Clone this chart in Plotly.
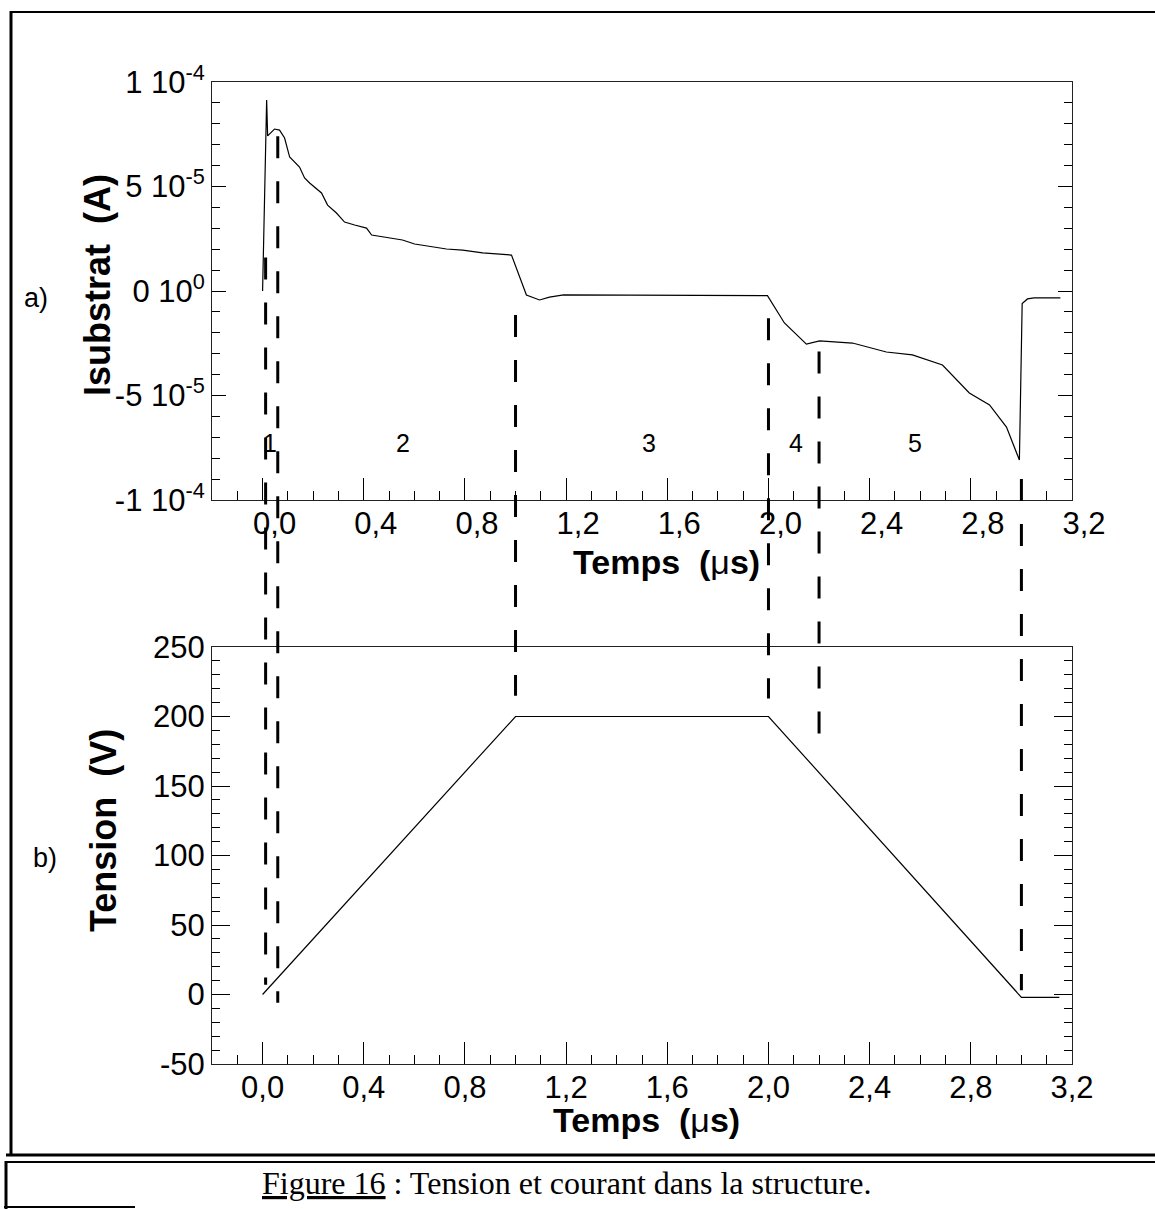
import plotly.graph_objects as go

# ---------------- data ----------------
# a) substrate current, time in µs, current in units of 1e-5 A
t_current = [0.0, 0.016, 0.020, 0.047, 0.067, 0.087, 0.107, 0.146, 0.166, 0.186,
             0.233, 0.257, 0.292, 0.324, 0.364, 0.411, 0.431, 0.490, 0.553, 0.601,
             0.660, 0.727, 0.791, 0.870, 0.984, 1.043, 1.095, 1.134, 1.19, 1.50,
             1.80, 1.996, 2.063, 2.150, 2.202, 2.332, 2.466, 2.569, 2.688, 2.794,
             2.874, 2.941, 2.992, 2.998, 3.003, 3.024, 3.05, 3.154]
i_current_e5 = [0.0, 9.14, 7.42, 7.75, 7.70, 7.32, 6.41, 5.93, 5.41, 5.17,
                4.69, 4.11, 3.73, 3.30, 3.16, 3.01, 2.68, 2.58, 2.44, 2.25,
                2.15, 2.01, 1.96, 1.82, 1.72, -0.19, -0.43, -0.29, -0.19, -0.20,
                -0.20, -0.22, -1.53, -2.54, -2.39, -2.49, -2.92, -3.06, -3.54, -4.88,
                -5.45, -6.51, -8.09, -4.50, -0.60, -0.38, -0.33, -0.33]

# b) applied voltage
t_voltage = [0.0, 1.0, 2.0, 3.0, 3.15]
v_voltage = [0.0, 200.0, 200.0, -2.0, -2.0]

# phase boundaries (µs) and vertical extent of dashed markers
boundary_t = [0.012, 0.06, 1.0, 2.0, 2.2, 3.0]
boundary_top_A = [1.6e-5, 7.4e-5, -1.15e-5, -1.3e-5, -2.9e-5, -9.0e-5]
boundary_bottom_V = [7, -6, 215, 213, 183, 3]

# phase labels
phase_labels = ["1", "2", "3", "4", "5"]
phase_t = [0.028, 0.557, 1.526, 2.11, 2.58]
phase_y = -7.27e-5

x_tickvals = [0.0, 0.4, 0.8, 1.2, 1.6, 2.0, 2.4, 2.8, 3.2]
x_ticktext = ["0,0", "0,4", "0,8", "1,2", "1,6", "2,0", "2,4", "2,8", "3,2"]
yA_tickvals = [-1e-4, -5e-5, 0, 5e-5, 1e-4]
yA_ticktext = ["-1 10<sup>-4</sup>", "-5 10<sup>-5</sup>", "0 10<sup>0</sup>",
               "5 10<sup>-5</sup>", "1 10<sup>-4</sup>"]
yV_tickvals = [-50, 0, 50, 100, 150, 200, 250]
yV_ticktext = ["-50", "0", "50", "100", "150", "200", "250"]

# ---------------- layout geometry ----------------
W, H = 1155, 1209
ML, MR, MT, MB = 212, 83, 82, 145
PW, PH = W - ML - MR, H - MT - MB


def px_x(px):
    return (px - ML) / PW


def px_y(py):
    return (H - MB - py) / PH


top_dom = [px_y(500), 1.0]
bot_dom = [0.0, px_y(647)]
XR = [-0.2, 3.2]
YA = [-1e-4, 1e-4]
YV = [-50, 250]

SANS = "Liberation Sans, Arial, sans-serif"
SERIF = "Liberation Serif, Times New Roman, serif"

fig = go.Figure()
fig.add_trace(go.Scatter(x=t_current, y=[v * 1e-5 for v in i_current_e5],
                         mode="lines", line=dict(color="black", width=1.2),
                         xaxis="x", yaxis="y", showlegend=False))
fig.add_trace(go.Scatter(x=t_voltage, y=v_voltage, mode="lines",
                         line=dict(color="black", width=1.2),
                         xaxis="x2", yaxis="y2", showlegend=False))


def a_to_paper(v):
    return top_dom[0] + (v - YA[0]) / (YA[1] - YA[0]) * (top_dom[1] - top_dom[0])


def v_to_paper(v):
    return bot_dom[0] + (v - YV[0]) / (YV[1] - YV[0]) * (bot_dom[1] - bot_dom[0])


shapes = []
for t, ya, yv in zip(boundary_t, boundary_top_A, boundary_bottom_V):
    shapes.append(dict(type="line", xref="x", yref="paper", x0=t, x1=t,
                       y0=a_to_paper(ya), y1=v_to_paper(yv),
                       line=dict(color="black", width=3, dash="22px,23px")))

# page borders of the scanned document
border = dict(color="black", width=3)
shapes += [
    dict(type="line", xref="paper", yref="paper", x0=px_x(10), x1=px_x(1155),
         y0=px_y(12), y1=px_y(12), line=dict(color="black", width=2)),
    dict(type="line", xref="paper", yref="paper", x0=px_x(11), x1=px_x(11),
         y0=px_y(11), y1=px_y(1156), line=border),
    dict(type="line", xref="paper", yref="paper", x0=px_x(6), x1=px_x(1155),
         y0=px_y(1155), y1=px_y(1155), line=border),
    dict(type="line", xref="paper", yref="paper", x0=px_x(6), x1=px_x(1155),
         y0=px_y(1162), y1=px_y(1162), line=dict(color="black", width=2)),
    dict(type="line", xref="paper", yref="paper", x0=px_x(6), x1=px_x(6),
         y0=px_y(1161), y1=px_y(1209), line=border),
    dict(type="line", xref="paper", yref="paper", x0=px_x(4), x1=px_x(135),
         y0=px_y(1207), y1=px_y(1207), line=dict(color="black", width=2)),
]


def ann(px, py, text, font, **kw):
    return dict(x=px_x(px), y=px_y(py), xref="paper", yref="paper", text=text,
                showarrow=False, xanchor="center", yanchor="middle", font=font, **kw)


annotations = []
for lab, t in zip(phase_labels, phase_t):
    annotations.append(dict(x=t, y=phase_y, xref="x", yref="y", text=lab,
                            xanchor="center", yanchor="middle", showarrow=False,
                            font=dict(family=SANS, size=25, color="black")))

title_font = dict(family=SANS, size=34, color="black")
vtitle_font = dict(family=SANS, size=36, color="black")
annotations += [
    ann(666, 562, "<b>Temps\u00a0 (</b>μ<b>s)</b>", title_font),
    ann(646, 1120, "<b>Temps\u00a0 (</b>μ<b>s)</b>", title_font),
    ann(97, 285, "<b>Isubstrat\u00a0 (A)</b>", vtitle_font, textangle=-90),
    ann(103, 830, "<b>Tension\u00a0 (V)</b>", vtitle_font, textangle=-90),
    ann(36, 298, "a)", dict(family=SANS, size=27, color="black")),
    ann(45, 858, "b)", dict(family=SANS, size=27, color="black")),
    ann(566, 1183, "<u>Figure 16</u> : Tension et courant dans la structure.",
        dict(family=SERIF, size=32, color="black")),
]

tickfont = dict(family=SANS, size=31, color="black")
xcommon = dict(range=XR, tickvals=x_tickvals, ticktext=x_ticktext, ticks="inside",
               ticklen=22, tickwidth=1, tickcolor="black", showline=True, linecolor="#222",
               linewidth=1, mirror=True, showgrid=False, zeroline=False, tickfont=tickfont,
               automargin=False, ticklabelstandoff=-4,
               minor=dict(dtick=0.1, tick0=0, ticks="inside", ticklen=9, tickcolor="black"))

fig.update_layout(
    width=W, height=H, margin=dict(l=ML, r=MR, t=MT, b=MB),
    paper_bgcolor="white", plot_bgcolor="white", showlegend=False,
    xaxis=dict(domain=[0, 1], anchor="y", ticklabelshift=12, **xcommon),
    yaxis=dict(domain=top_dom, anchor="x", range=YA, tickvals=yA_tickvals,
               ticktext=yA_ticktext, ticks="inside", ticklen=14, tickcolor="black",
               showline=True, linecolor="#222", linewidth=1, mirror="ticks",
               showgrid=False, zeroline=False, tickfont=tickfont, automargin=False,
               minor=dict(dtick=1e-5, tick0=0, ticks="inside", ticklen=8, tickcolor="black")),
    xaxis2=dict(domain=[0, 1], anchor="y2", **xcommon),
    yaxis2=dict(domain=bot_dom, anchor="x2", range=YV, tickvals=yV_tickvals,
                ticktext=yV_ticktext, ticks="inside", ticklen=18, tickcolor="black",
                showline=True, linecolor="#222", linewidth=1, mirror="ticks",
                showgrid=False, zeroline=False, tickfont=tickfont, automargin=False,
                minor=dict(dtick=10, tick0=0, ticks="inside", ticklen=8, tickcolor="black")),
    shapes=shapes, annotations=annotations,
)

fig.write_html("out.html", config={"displayModeBar": False},
               post_script="document.body.style.margin='0';"
                           "document.body.style.overflow='hidden';")
